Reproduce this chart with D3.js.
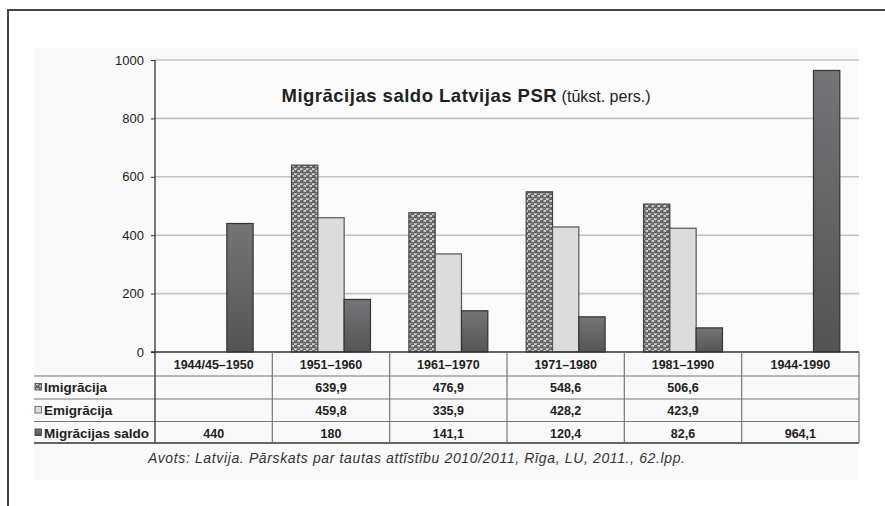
<!DOCTYPE html>
<html><head><meta charset="utf-8">
<script src="https://cdn.jsdelivr.net/npm/d3@7"></script>
<style>
html,body{margin:0;padding:0;background:#fff;}
svg{display:block;font-family:"Liberation Sans",Arial,sans-serif;}
</style></head>
<body><svg id="c" width="885" height="506"></svg>
<script>
const categories = ["1944/45–1950","1951–1960","1961–1970","1971–1980","1981–1990","1944-1990"];
const seriesNames = ["Imigrācija","Emigrācija","Migrācijas saldo"];
const imigracija = [null,639.9,476.9,548.6,506.6,null];
const emigracija = [null,459.8,335.9,428.2,423.9,null];
const saldo = [440,180,141.1,120.4,82.6,964.1];
const yTicks = [0,200,400,600,800,1000];
const titleBold = "Migrācijas saldo Latvijas PSR";
const titleNormal = " (tūkst. pers.)";
const sourceText = "Avots: Latvija. Pārskats par tautas attīstību 2010/2011, Rīga, LU, 2011., 62.lpp.";

(function(){
const seriesData = [imigracija, emigracija, saldo];
const svg = d3.select("#c");
const defs = svg.append("defs");

const pat = defs.append("pattern").attr("id","pImig").attr("patternUnits","userSpaceOnUse")
  .attr("width",6).attr("height",5);
pat.append("rect").attr("width",6).attr("height",5).attr("fill","#d0d0d0");
pat.append("circle").attr("cx",1.5).attr("cy",1.3).attr("r",2).attr("fill","#585858");
pat.append("circle").attr("cx",4.5).attr("cy",3.8).attr("r",2).attr("fill","#636363");
pat.append("circle").attr("cx",1.1).attr("cy",0.9).attr("r",0.7).attr("fill","#9a9a9a");
pat.append("circle").attr("cx",4.1).attr("cy",3.4).attr("r",0.7).attr("fill","#9a9a9a");

const grad = defs.append("linearGradient").attr("id","gSaldo").attr("x1",0).attr("y1",0).attr("x2",0).attr("y2",1);
grad.append("stop").attr("offset","0%").attr("stop-color","#747577");
grad.append("stop").attr("offset","100%").attr("stop-color","#545454");

const fills = ["url(#pImig)","#dcdcdc","url(#gSaldo)"];
const strokes = ["#444","#555","#333"];

svg.append("path").attr("d","M8,506 V10 H885").attr("fill","none").attr("stroke","#444").attr("stroke-width",2);
svg.append("rect").attr("x",34).attr("y",48).attr("width",825).attr("height",432).attr("fill","#f9f9f9");

const pL = 155, pR = 859, pT = 60, base = 352;
svg.append("rect").attr("x",pL).attr("y",pT).attr("width",pR-pL).attr("height",base-pT).attr("fill","#fbfbfb");

const x = d3.scaleBand().domain(categories).range([pL,pR]).paddingInner(0).paddingOuter(0);
const xs = d3.scaleBand().domain(seriesNames).range([0,x.bandwidth()]).paddingInner(0).paddingOuter(0.73);
const y = d3.scaleLinear().domain([0,1000]).range([base,pT]);

svg.append("g").selectAll("line").data(yTicks.filter(d=>d>0)).join("line")
  .attr("x1",pL).attr("x2",pR).attr("y1",d=>y(d)).attr("y2",d=>y(d))
  .attr("stroke","#c4c4c4").attr("stroke-width",1.6);

const t = svg.append("text").attr("x",466).attr("y",102).attr("text-anchor","middle").attr("fill","#222");
t.append("tspan").attr("font-weight","bold").attr("font-size",18.5).attr("letter-spacing",0.5).text(titleBold);
t.append("tspan").attr("font-size",16).text(titleNormal);

seriesNames.forEach((s,si)=>{
  svg.append("g").selectAll("rect").data(categories.map((c,i)=>({c,v:seriesData[si][i]})).filter(d=>d.v!=null))
    .join("rect")
    .attr("x",d=>x(d.c)+xs(s)).attr("width",xs.bandwidth())
    .attr("y",d=>y(d.v)).attr("height",d=>base-y(d.v))
    .attr("fill",fills[si]).attr("stroke",strokes[si]).attr("stroke-width",1.2);
});

const ya = svg.append("g").attr("transform",`translate(${pL},0)`)
  .call(d3.axisLeft(y).tickValues(yTicks).tickSize(4).tickPadding(7).tickFormat(d3.format("d")));
ya.select(".domain").remove();
ya.selectAll(".tick line").attr("stroke","#333");
ya.selectAll(".tick text").attr("font-size",13).attr("fill","#222").attr("font-family","Liberation Sans, Arial, sans-serif");

const rowY = [352,376,399,421.5,443];
const tbl = svg.append("g");
tbl.append("line").attr("x1",151).attr("x2",pR).attr("y1",base).attr("y2",base).attr("stroke","#333").attr("stroke-width",1.5);
[1,2,3].forEach(k=>tbl.append("line").attr("x1",34).attr("x2",pR).attr("y1",rowY[k]).attr("y2",rowY[k]).attr("stroke","#777").attr("stroke-width",1.2));
tbl.append("line").attr("x1",34).attr("x2",pR).attr("y1",rowY[4]).attr("y2",rowY[4]).attr("stroke","#333").attr("stroke-width",1.5);
tbl.append("line").attr("x1",pL).attr("x2",pL).attr("y1",pT).attr("y2",rowY[4]).attr("stroke","#333").attr("stroke-width",1.3);
categories.forEach(c=>{
  const xr = x(c)+x.bandwidth();
  tbl.append("line").attr("x1",xr).attr("x2",xr).attr("y1",base).attr("y2",rowY[4]).attr("stroke","#777").attr("stroke-width",1.2);
});
tbl.selectAll("text.h").data(categories).join("text").attr("class","h")
  .attr("x",d=>x(d)+x.bandwidth()/2).attr("y",368.5).attr("text-anchor","middle")
  .attr("font-weight","bold").attr("font-size",12.5).attr("fill","#222").text(d=>d);
const fmt = v => String(v).replace(".",",");
seriesNames.forEach((s,si)=>{
  const yb = rowY[si+1] + 16;
  tbl.append("rect").attr("x",35).attr("y",yb-8.5).attr("width",6.5).attr("height",6.5)
    .attr("fill",fills[si]).attr("stroke",strokes[si]).attr("stroke-width",0.8);
  tbl.append("text").attr("x",44).attr("y",yb).attr("font-weight","bold").attr("font-size",13.5)
    .attr("fill","#222").text(s);
  tbl.selectAll(null).data(categories.map((c,i)=>({c,v:seriesData[si][i]})).filter(d=>d.v!=null))
    .join("text").attr("x",d=>x(d.c)+x.bandwidth()/2).attr("y",yb).attr("text-anchor","middle")
    .attr("font-weight","bold").attr("font-size",12.5).attr("fill","#222").text(d=>fmt(d.v));
});

svg.append("text").attr("x",148).attr("y",463).attr("font-style","italic")
  .attr("font-size",14).attr("textLength",537).attr("lengthAdjust","spacing")
  .attr("fill","#333").text(sourceText);
})();
</script></body></html>
